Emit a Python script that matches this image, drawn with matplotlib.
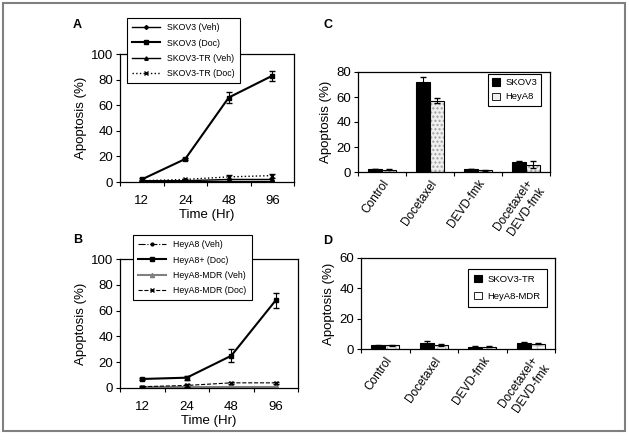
import matplotlib
matplotlib.use("Agg")
import matplotlib.pyplot as plt
import numpy as np
from matplotlib.patches import Rectangle

plt.rcParams["font.family"] = ["Liberation Sans", "DejaVu Sans"]

W, H = 629, 444

# ---- data ----
hours = ["12", "24", "48", "96"]

skov3_veh = [1, 1, 1, 1]
skov3_doc = [2, 18, 66, 83]
skov3_doc_err = [1, 1, 4, 4]
skov3tr_veh = [1, 1, 2, 2]
skov3tr_doc = [1, 2, 4, 5]
skov3tr_doc_err = [0.5, 0.5, 1.5, 1.5]

heya8_veh = [1, 1, 1, 1]
heya8_doc = [7, 8, 25, 68]
heya8_doc_err = [0.5, 1.5, 5, 6]
heya8mdr_veh = [1, 1, 1, 1]
heya8mdr_doc = [1, 2, 4, 4]
heya8mdr_doc_err = [0.5, 1, 1, 1]

treatments = ["Control", "Docetaxel", "DEVD-fmk", "Docetaxel+\nDEVD-fmk"]
c_skov3 = [2.5, 72, 2.5, 8]
c_skov3_err = [0.3, 4, 0.3, 0.5]
c_heya8 = [2, 57, 1.5, 6]
c_heya8_err = [0.3, 2, 0.3, 3]

d_skov3tr = [2.5, 4, 1.5, 4]
d_skov3tr_err = [0.3, 1, 0.8, 0.3]
d_heya8mdr = [2.5, 2.5, 1.5, 3.5]
d_heya8mdr_err = [0.3, 0.7, 0.3, 0.3]


def px_axes(x0, y0, x1, y1):
    return fig.add_axes([x0 / W, 1 - y1 / H, (x1 - x0) / W, (y1 - y0) / H])


def style_cat_axis(ax, labels, ymax, ystep, rot=0):
    n = len(labels)
    ax.set_xlim(-0.5, n - 0.5)
    ax.set_ylim(0, ymax)
    ax.set_yticks(np.arange(0, ymax + 1, ystep))
    ax.set_xticks(np.arange(n))
    ax.set_xticks(np.arange(n + 1) - 0.5, minor=True)
    ax.tick_params(axis="x", which="major", length=0, labelsize=9.5, pad=9)
    ax.tick_params(axis="x", which="minor", length=3, width=0.8, direction="out")
    ax.tick_params(axis="y", length=3, width=0.8, labelsize=9.5, pad=2)
    for s in ax.spines.values():
        s.set_linewidth(0.9)
    if rot:
        ax.set_xticklabels(labels, rotation=55, ha="right", rotation_mode="anchor",
                           fontsize=8.5)
        ax.tick_params(axis="x", which="major", pad=4)
    else:
        ax.set_xticklabels(labels)
    ax.set_ylabel("Apoptosis (%)", fontsize=9.5, labelpad=3)


def line_legend(ax, x0, y0):
    leg = ax.legend(loc="upper left", bbox_to_anchor=(x0 / W, 1 - y0 / H),
                    bbox_transform=fig.transFigure, borderaxespad=0, fontsize=6.3,
                    fancybox=False, framealpha=1, edgecolor="black", handlelength=3.2,
                    labelspacing=0.72, borderpad=0.6)
    leg.get_frame().set_linewidth(0.8)


def bar_legend(ax, x0, y0, spacing, pad):
    leg = ax.legend(loc="upper left", bbox_to_anchor=(x0 / W, 1 - y0 / H),
                    bbox_transform=fig.transFigure, borderaxespad=0, fontsize=6.8,
                    fancybox=False, framealpha=1, edgecolor="black", handlelength=0.8,
                    handleheight=0.8, labelspacing=spacing, borderpad=pad,
                    handletextpad=0.6)
    leg.get_frame().set_linewidth(0.8)


fig = plt.figure(figsize=(W / 100, H / 100), dpi=100)
fig.patches.append(Rectangle((3 / W, 1 - 431 / H), 622 / W, 428 / H,
                             transform=fig.transFigure, fill=False,
                             edgecolor="#808080", linewidth=1.5))

x = np.arange(len(hours))

# ---- Panel A ----
axA = px_axes(120, 54, 294, 182)
axA.plot(x, skov3_veh, "-", color="black", marker="D", ms=2, lw=1, label="SKOV3 (Veh)")
axA.plot(x, skov3_doc, "-s", color="black", ms=2.5, lw=1.5, label="SKOV3 (Doc)")
axA.errorbar(x, skov3_doc, yerr=skov3_doc_err, fmt="none", ecolor="black",
             capsize=2.5, elinewidth=0.8)
axA.plot(x, skov3tr_veh, "-", color="black", marker="^", ms=2.5, lw=1, label="SKOV3-TR (Veh)")
axA.plot(x, skov3tr_doc, ":x", color="black", ms=3.5, lw=1, label="SKOV3-TR (Doc)")
axA.errorbar(x, skov3tr_doc, yerr=skov3tr_doc_err, fmt="none", ecolor="black",
             capsize=2, elinewidth=0.8)
style_cat_axis(axA, hours, 100, 20)
axA.set_xlabel("Time (Hr)", fontsize=9.5, labelpad=2)
line_legend(axA, 127, 18)
fig.text(73 / W, 1 - 25 / H, "A", fontsize=9, fontweight="bold", va="center")

# ---- Panel B ----
axB = px_axes(120, 259, 298, 388)
axB.plot(x, heya8_veh, linestyle="-.", color="black", marker="o", ms=2, lw=0.8,
         label="HeyA8 (Veh)")
axB.plot(x, heya8_doc, "-s", color="black", ms=2.5, lw=1.5, label="HeyA8+ (Doc)")
axB.errorbar(x, heya8_doc, yerr=heya8_doc_err, fmt="none", ecolor="black",
             capsize=2.5, elinewidth=0.8)
axB.plot(x, heya8mdr_veh, "-", color="#808080", marker="^", ms=3, lw=1.5,
         label="HeyA8-MDR (Veh)")
axB.plot(x, heya8mdr_doc, "--x", color="black", ms=3.5, lw=0.8, label="HeyA8-MDR (Doc)")
axB.errorbar(x, heya8mdr_doc, yerr=heya8mdr_doc_err, fmt="none", ecolor="black",
             capsize=2, elinewidth=0.8)
style_cat_axis(axB, hours, 100, 20)
axB.set_xlabel("Time (Hr)", fontsize=9.5, labelpad=2)
line_legend(axB, 133, 235)
fig.text(73 / W, 1 - 240 / H, "B", fontsize=9, fontweight="bold", va="center")

bw = 0.29
xb = np.arange(len(treatments))


def hatched_bars(ax, xs, vals, errs, face, hatch, hcolor, label):
    ax.bar(xs, vals, bw, color=face, hatch=hatch, edgecolor=hcolor, linewidth=0)
    ax.bar(xs, vals, bw, fill=False, edgecolor="black", linewidth=0.8)
    ax.errorbar(xs, vals, yerr=errs, fmt="none", ecolor="black", capsize=2.5, elinewidth=0.8)
    ax.bar([np.nan], [np.nan], color=face, edgecolor="black", linewidth=0.6, label=label)


# ---- Panel C ----
axC = px_axes(358, 72, 550, 172)
axC.bar(xb - bw / 2, c_skov3, bw, color="black", edgecolor="black", linewidth=0.8,
        yerr=c_skov3_err, capsize=2.5, error_kw=dict(elinewidth=0.8), label="SKOV3")
hatched_bars(axC, xb + bw / 2, c_heya8, c_heya8_err, "#f0f0f0", "....", "#a0a0a0", "HeyA8")
style_cat_axis(axC, treatments, 80, 20, rot=55)
bar_legend(axC, 488, 74, 0.55, 0.45)
fig.text(323 / W, 1 - 25 / H, "C", fontsize=9, fontweight="bold", va="center")

# ---- Panel D ----
axD = px_axes(361, 258, 555, 349)
axD.bar(xb - bw / 2, d_skov3tr, bw, color="black", edgecolor="black", linewidth=0.8,
        yerr=d_skov3tr_err, capsize=2.5, error_kw=dict(elinewidth=0.8), label="SKOV3-TR")
hatched_bars(axD, xb + bw / 2, d_heya8mdr, d_heya8mdr_err, "white", "++", "#c8c8c8",
             "HeyA8-MDR")
style_cat_axis(axD, treatments, 60, 20, rot=55)
bar_legend(axD, 468, 269, 0.85, 0.65)
fig.text(323 / W, 1 - 241 / H, "D", fontsize=9, fontweight="bold", va="center")

fig.savefig("out.png", dpi=100)
